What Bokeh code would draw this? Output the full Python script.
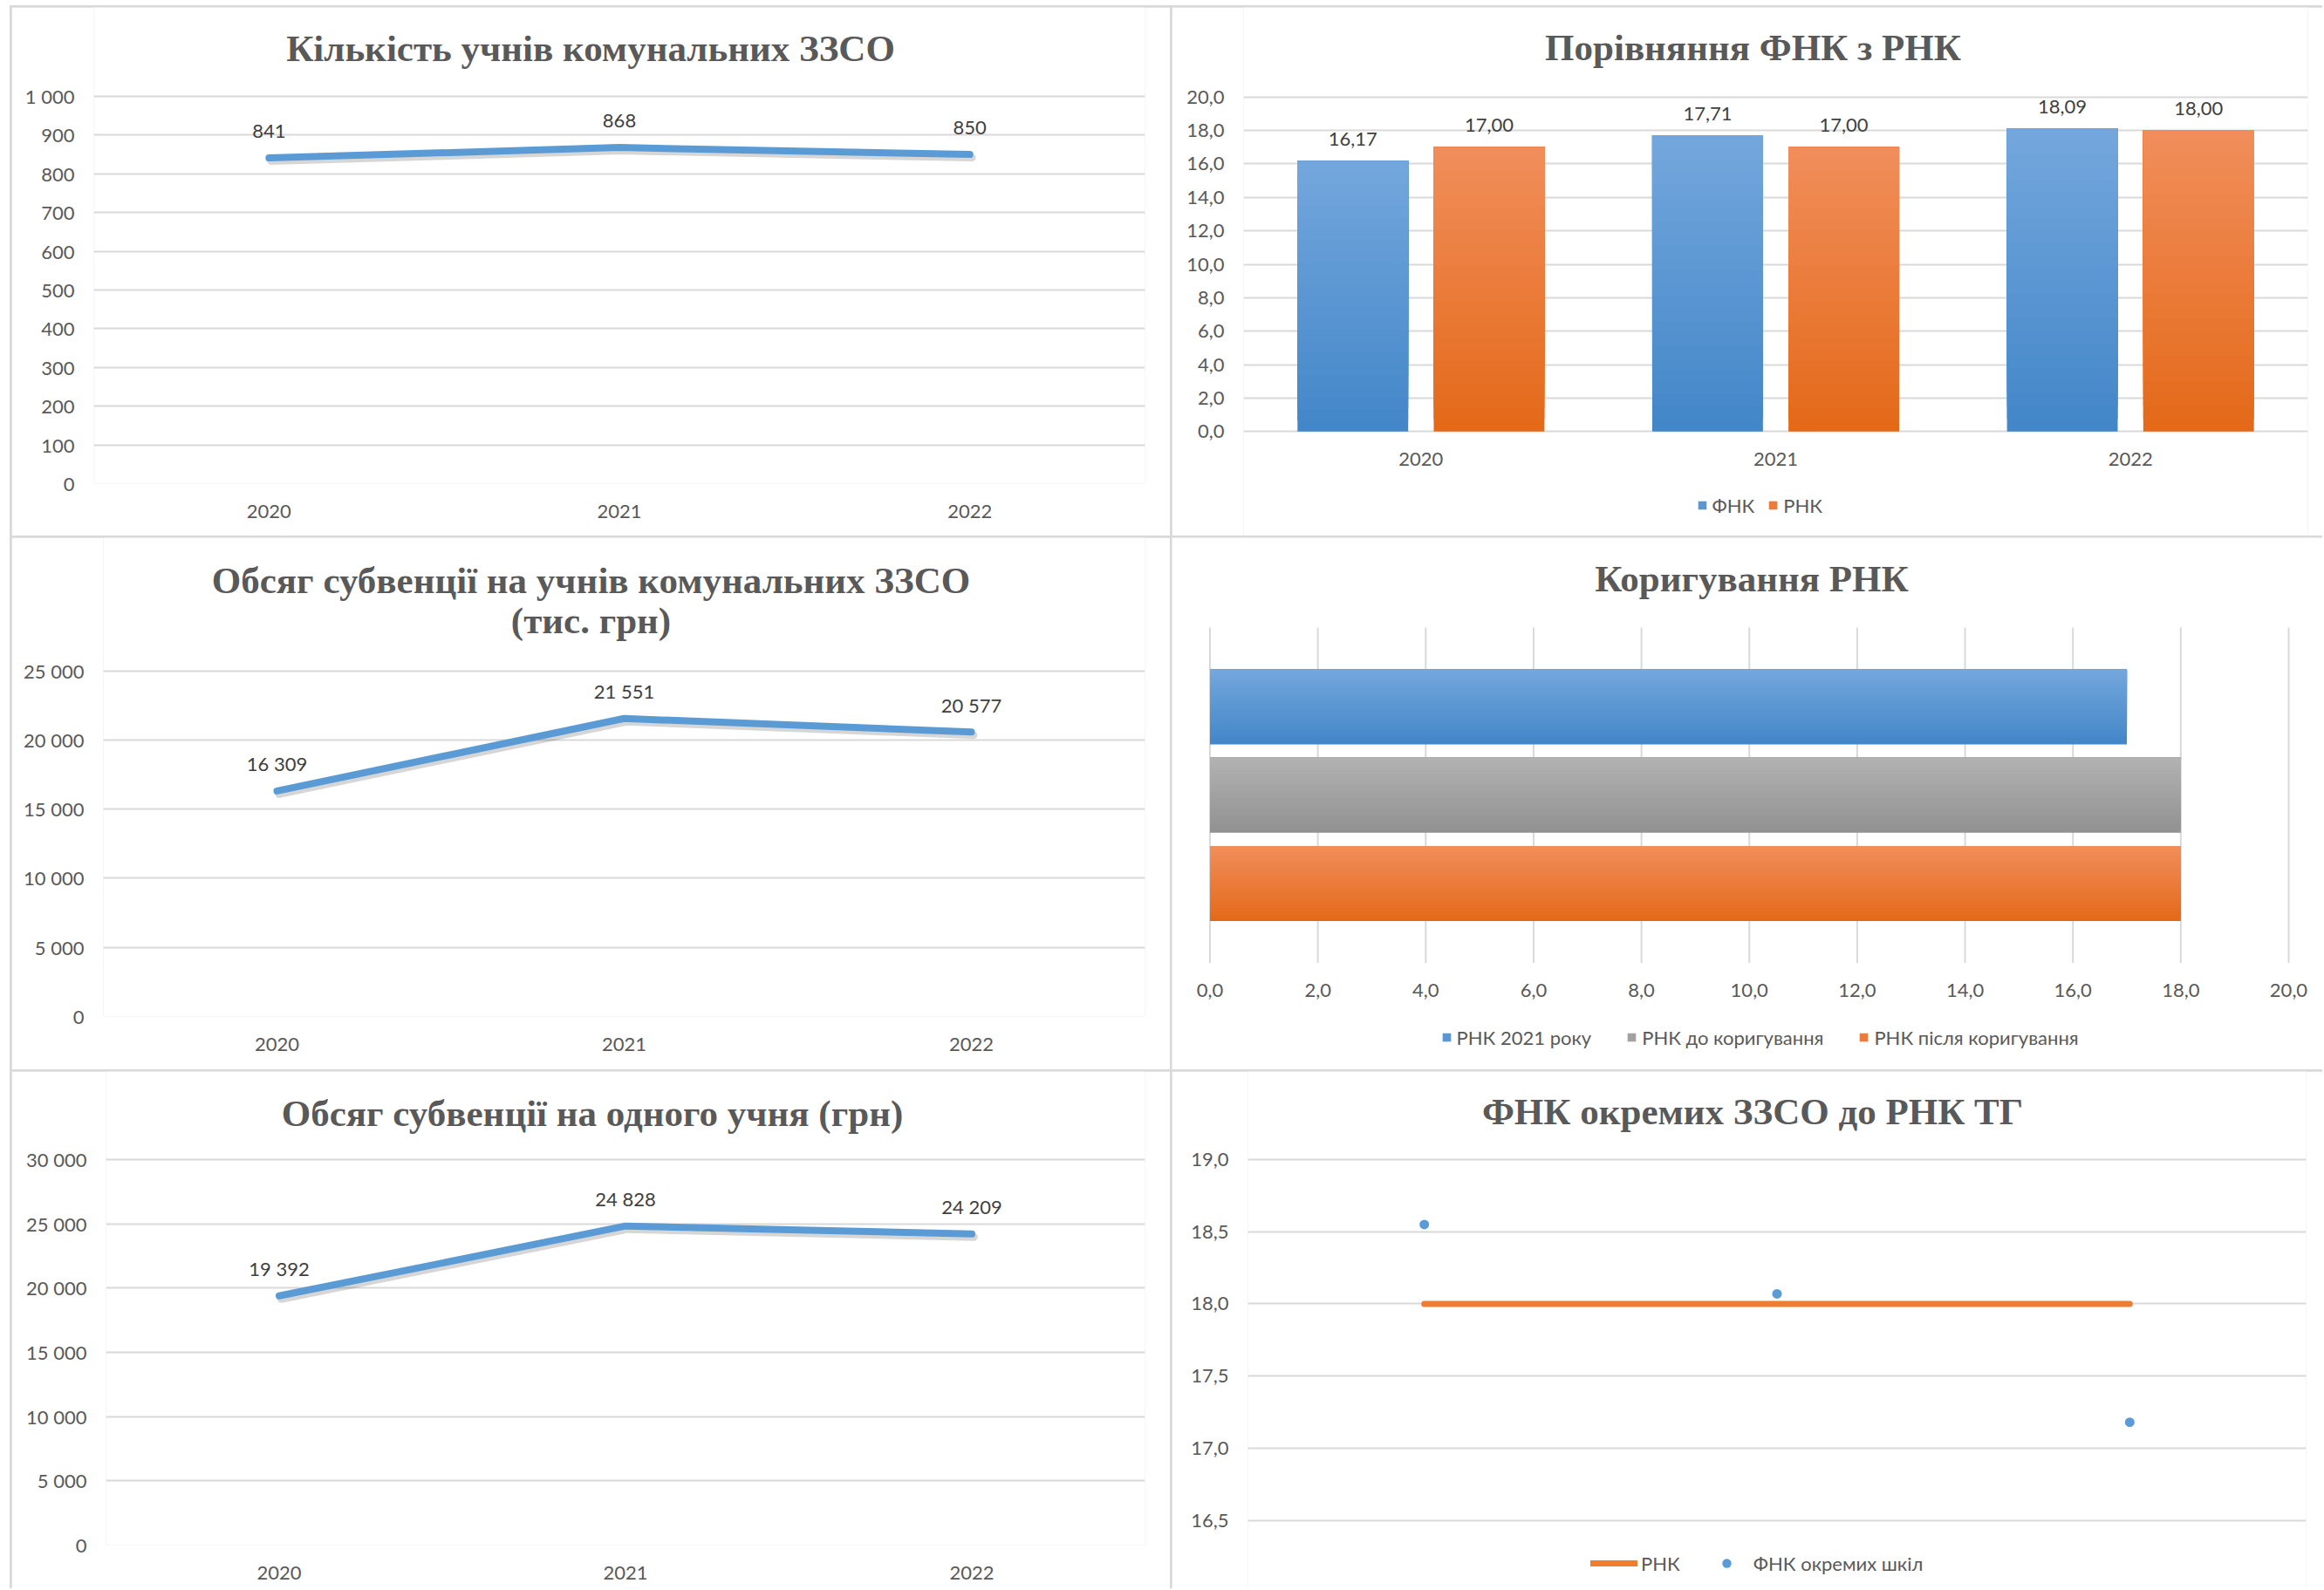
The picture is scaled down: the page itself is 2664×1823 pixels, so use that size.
from bokeh.plotting import figure
from bokeh.models import (Range1d, FactorRange, FixedTicker, Label, Legend, LegendItem,
                          ColumnDataSource)
from bokeh.layouts import gridplot
from bokeh.transform import dodge
from bokeh.embed import file_html
from bokeh.resources import INLINE
from bokeh.core.properties import value

# ---------------- data ----------------
years = ["2020", "2021", "2022"]
students = [841, 868, 850]
subsidy_total = [16309, 21551, 20577]
subsidy_per_pupil = [19392, 24828, 24209]
fnk = [16.17, 17.71, 18.09]
rnk = [17.00, 17.00, 18.00]
adj_series = ["РНК 2021 року", "РНК до коригування", "РНК після коригування"]
adj_values = [17.0, 18.0, 18.0]
school_rnk = [18.0, 18.0, 18.0]
school_fnk = [18.55, 18.07, 17.18]
school_pos = [1, 2, 3]

students_ticks = [0, 100, 200, 300, 400, 500, 600, 700, 800, 900, 1000]
students_tick_labels = ["0", "100", "200", "300", "400", "500", "600", "700", "800", "900", "1 000"]
total_ticks = [0, 5000, 10000, 15000, 20000, 25000]
total_tick_labels = ["0", "5 000", "10 000", "15 000", "20 000", "25 000"]
per_ticks = [0, 5000, 10000, 15000, 20000, 25000, 30000]
per_tick_labels = ["0", "5 000", "10 000", "15 000", "20 000", "25 000", "30 000"]
ratio_ticks = [0, 2, 4, 6, 8, 10, 12, 14, 16, 18, 20]
ratio_tick_labels = ["0,0", "2,0", "4,0", "6,0", "8,0", "10,0", "12,0", "14,0", "16,0", "18,0", "20,0"]
school_ticks = [16.5, 17.0, 17.5, 18.0, 18.5, 19.0]
school_tick_labels = ["16,5", "17,0", "17,5", "18,0", "18,5", "19,0"]

titles = ["Кількість учнів комунальних ЗЗСО",
          "Порівняння ФНК з РНК",
          "Обсяг субвенції на учнів комунальних ЗЗСО",
          "(тис. грн)",
          "Коригування РНК",
          "Обсяг субвенції на одного учня (грн)",
          "ФНК окремих ЗЗСО до РНК ТГ"]

# ---------------- style ----------------
TEXT = "#595959"
LABEL = "#404040"
GRID = "#d9d9d9"
BLUE = "#5B9BD5"
ORANGE = "#ED7D31"
TICK_FONT = "Lato"
TICK_SIZE = "22px"
TITLE_FONT = "Liberation Serif"
TITLE_SIZE = "43px"
N_GRAD = 24

BLUE_TOP, BLUE_BOT = (116, 167, 221), (66, 134, 200)
ORANGE_TOP, ORANGE_BOT = (241, 142, 92), (228, 105, 24)
GRAY_TOP, GRAY_BOT = (178, 178, 178), (145, 145, 145)

W1, W2 = 1328, 1319
H1, H2, H3 = 606, 610, 593

# category band of the horizontal bar panel (3 bars, padded)
ADJ_LO, ADJ_HI = -0.898, 2.898
ADJ_BAR_H = 0.85


def mix(top, bot, frac):
    c = [round(b + (t - b) * frac) for t, b in zip(top, bot)]
    return "#%02x%02x%02x" % tuple(c)


def fmt_int(v):
    return f"{v:,}".replace(",", " ")


def fmt_dec(v):
    return f"{v:.2f}".replace(".", ",")


def padded_range(lo, hi, frame_px, gap_hi, gap_lo):
    # the frame also holds the title (and legend) area: pad the range beyond the ticks
    u = (hi - lo) / (frame_px - gap_hi - gap_lo)
    return Range1d(lo - gap_lo * u, hi + gap_hi * u)


def base_fig(w, h, bl, br, bt, bb, x_range, y_range, **kw):
    p = figure(width=w, height=h, x_range=x_range, y_range=y_range,
               output_backend="svg", toolbar_location=None, tools="",
               min_border_left=int(bl), min_border_right=int(br),
               min_border_top=int(bt), min_border_bottom=int(bb),
               background_fill_color="white", border_fill_color="white", **kw)
    p.frame_align = False
    p.outline_line_color = None
    for ax in p.axis:
        ax.axis_line_color = None
        ax.major_tick_line_color = None
        ax.minor_tick_line_color = None
        ax.major_tick_out = 0
        ax.major_tick_in = 0
        ax.major_label_text_font = TICK_FONT
        ax.major_label_text_font_size = TICK_SIZE
        ax.major_label_text_color = TEXT
    p.xaxis.major_label_standoff = 24
    p.yaxis.major_label_standoff = 22
    p.grid.grid_line_color = GRID
    p.grid.grid_line_width = 2
    return p


def add_title(p, text, x, y):
    p.add_layout(Label(x=x, y=y, x_units="screen", y_units="screen", text=text,
                       text_align="center", text_baseline="middle",
                       text_font=TITLE_FONT, text_font_style="bold",
                       text_font_size=TITLE_SIZE, text_color=TEXT))


def make_legend(items, loc, glyph_w, glyph_h, standoff, spacing):
    return Legend(items=items, location=loc, orientation="horizontal",
                  glyph_width=glyph_w, glyph_height=glyph_h,
                  label_standoff=standoff, spacing=spacing, padding=0, margin=0,
                  label_text_font=TICK_FONT, label_text_font_size=TICK_SIZE,
                  label_text_color=TEXT, border_line_color=None,
                  background_fill_alpha=0)


def line_panel(w, h, bl, br, top_gap, bb, values, ticks, tick_labels):
    ymax = ticks[-1]
    p = base_fig(w, h, bl, br, 0, bb, FactorRange(factors=years),
                 padded_range(0, ymax, h - bb, top_gap, 0))
    p.xgrid.visible = False
    p.yaxis.ticker = FixedTicker(ticks=ticks)
    p.yaxis.major_label_overrides = {t: l for t, l in zip(ticks, tick_labels)}
    src = ColumnDataSource(dict(year=years, v=values, lab=[fmt_int(v) for v in values]))
    off = -3.5 * ymax / (h - bb - top_gap)
    p.line(x=dodge("year", 0.006, range=p.x_range), y=dodge("v", off), source=src,
           line_color="#000000", line_alpha=0.16, line_width=9, line_cap="round",
           line_join="round")
    p.line(x="year", y="v", source=src, line_color=BLUE, line_width=8,
           line_cap="round", line_join="round")
    p.text(x="year", y="v", text="lab", source=src, y_offset=-31,
           text_align="center", text_baseline="middle",
           text_font=value(TICK_FONT), text_font_size=TICK_SIZE, text_color=LABEL)
    return p


# ---------------- panel 1 ----------------
p1 = line_panel(W1, H1, 94, 29, 102, 60, students, students_ticks, students_tick_labels)
add_title(p1, titles[0], 569.5, 499)

# ---------------- panel 3 ----------------
p3 = line_panel(W1, H2, 105, 29, 152.6, 61, subsidy_total, total_ticks, total_tick_labels)
add_title(p3, titles[2], 559, 500)
add_title(p3, titles[3], 559, 454)

# ---------------- panel 5 ----------------
p5 = line_panel(W1, H3, 108, 29, 101, 50, subsidy_per_pupil, per_ticks, per_tick_labels)
add_title(p5, titles[5], 557.5, 495)

# ---------------- panel 2 (bars) ----------------
p2 = base_fig(W2, H1, 82, 17, 0, 0, FactorRange(factors=years),
              padded_range(0, 20, H1, 102.7, 119.7))
p2.xaxis.fixed_location = 0
p2.xgrid.visible = False
p2.yaxis.ticker = FixedTicker(ticks=ratio_ticks)
p2.yaxis.major_label_overrides = {t: l for t, l in zip(ratio_ticks, ratio_tick_labels)}
legend_items = []
for name, vals, dx, ctop, cbot in [("ФНК", fnk, -0.192, BLUE_TOP, BLUE_BOT),
                                    ("РНК", rnk, 0.192, ORANGE_TOP, ORANGE_BOT)]:
    d = dict(year=[], bottom=[], top=[], color=[])
    for k in range(N_GRAD):
        for yr, v in zip(years, vals):
            d["year"].append(yr)
            d["bottom"].append(v * k / N_GRAD)
            d["top"].append(v)
            d["color"].append(mix(ctop, cbot, (k + 0.5) / N_GRAD))
    r = p2.vbar(x=dodge("year", dx, range=p2.x_range), bottom="bottom", top="top",
                width=0.312, fill_color="color", line_color=None,
                source=ColumnDataSource(d))
    legend_items.append(LegendItem(label=name, renderers=[r], index=(N_GRAD // 2) * 3))
    lsrc = ColumnDataSource(dict(year=years, v=vals, lab=[fmt_dec(v) for v in vals]))
    p2.text(x=dodge("year", dx, range=p2.x_range), y="v", text="lab", source=lsrc,
            y_offset=-25, text_align="center", text_baseline="middle",
            text_font=value(TICK_FONT), text_font_size=TICK_SIZE, text_color=LABEL)
p2.add_layout(make_legend(legend_items, (519.5, 21.5), 12, 12, 6, 15))
add_title(p2, titles[1], 584, 560)

# ---------------- panel 4 (horizontal bars) ----------------
p4 = base_fig(W2, H2, 0, 0, 0, 0, padded_range(0, 20, W2, 39, 43.5),
              padded_range(ADJ_LO, ADJ_HI, H2, 103, 122.5))
p4.xaxis.fixed_location = ADJ_LO
p4.grid.visible = False
p4.yaxis.visible = False
p4.xaxis.ticker = FixedTicker(ticks=ratio_ticks)
p4.xaxis.major_label_overrides = {t: l for t, l in zip(ratio_ticks, ratio_tick_labels)}
# vertical grid lines spanning only the bar band (frame also holds title and legend)
p4.segment(x0="t", x1="t", y0=ADJ_LO, y1=ADJ_HI, line_color=GRID, line_width=2,
           source=ColumnDataSource(dict(t=ratio_ticks)))
legend_items = []
for i, (name, v, ctop, cbot) in enumerate(zip(adj_series, adj_values,
                                              [BLUE_TOP, GRAY_TOP, ORANGE_TOP],
                                              [BLUE_BOT, GRAY_BOT, ORANGE_BOT])):
    c = len(adj_series) - 1 - i
    d = dict(y=[], height=[], right=[], color=[])
    for k in range(N_GRAD):
        b = c - ADJ_BAR_H / 2 + ADJ_BAR_H * k / N_GRAD
        t = c + ADJ_BAR_H / 2
        d["y"].append((b + t) / 2)
        d["height"].append(t - b)
        d["right"].append(v)
        d["color"].append(mix(ctop, cbot, (k + 0.5) / N_GRAD))
    r = p4.hbar(y="y", height="height", left=0, right="right", fill_color="color",
                line_color=None, source=ColumnDataSource(d))
    legend_items.append(LegendItem(label=name, renderers=[r], index=N_GRAD // 2))
p4.add_layout(make_legend(legend_items, (308.6, 23.5), 12, 12, 6, 40))
add_title(p4, titles[4], 664.5, 563)

# ---------------- panel 6 ----------------
p6 = base_fig(W2, H3, 87, 19, 0, 0, Range1d(0.5, 3.5),
              padded_range(16.5, 19.0, H3, 101, 78.3), x_axis_location=None)
p6.xgrid.visible = False
p6.yaxis.ticker = FixedTicker(ticks=school_ticks)
p6.yaxis.major_label_overrides = {t: l for t, l in zip(school_ticks, school_tick_labels)}
src6 = ColumnDataSource(dict(x=school_pos, rnk=school_rnk, fnk=school_fnk))
rl = p6.line(x="x", y="rnk", source=src6, line_color=ORANGE, line_width=7, line_cap="round")
rs = p6.scatter(x="x", y="fnk", source=src6, size=11, marker="circle",
                fill_color=BLUE, line_color=None)
p6.add_layout(make_legend([LegendItem(label="РНК", renderers=[rl]),
                           LegendItem(label="ФНК окремих шкіл", renderers=[rs])],
                          (393, 15.5), 54, 26, 4, 26))
add_title(p6, titles[6], 578.5, 469 + 78.3)

grid = gridplot([[p1, p2], [p3, p4], [p5, p6]], toolbar_location=None)
grid.spacing = 2
grid.styles = {"background-color": GRID, "padding": "2px 0px 0px 2px",
               "margin": "6px 0px 0px 11px"}

open("out.html", "w").write(file_html(grid, INLINE))
